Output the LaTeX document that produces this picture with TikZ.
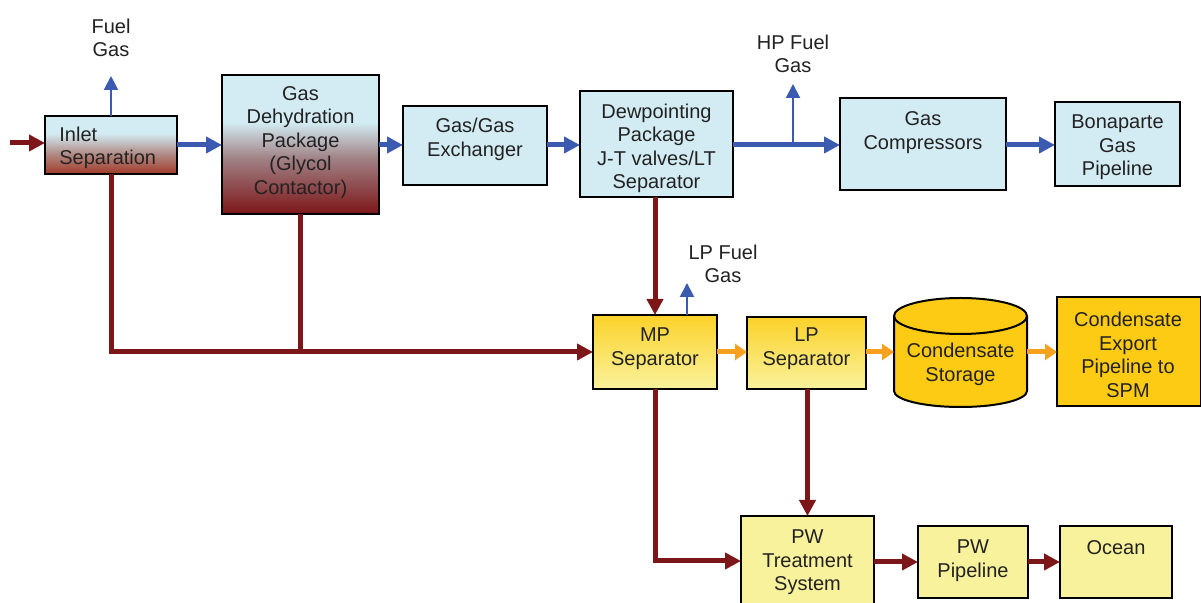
\documentclass[tikz,border=0pt]{standalone}
\usepackage{fontspec}
\setmainfont{Liberation Sans}
\usetikzlibrary{arrows.meta}
\definecolor{lblue}{HTML}{D3ECF3}
\definecolor{dred}{HTML}{7D1618}
\definecolor{rust}{HTML}{A23A28}
\definecolor{gblue}{HTML}{3A5BB0}
\definecolor{orng}{HTML}{F8A11E}
\definecolor{lyel}{HTML}{F9F29C}
\definecolor{gyel}{HTML}{FCD22A}
\definecolor{gold}{HTML}{FDCA14}
\definecolor{txt}{HTML}{222222}
\pgfdeclareverticalshading{dehydsh}{100bp}{color(0bp)=(dred); color(25bp)=(dred); color(45bp)=(dred!50!lblue!80!gray); color(58bp)=(lblue); color(100bp)=(lblue)}
\pgfdeclareverticalshading{inletsh}{100bp}{color(0bp)=(rust); color(25bp)=(rust); color(42bp)=(rust!55!lblue!85!gray); color(60bp)=(lblue); color(100bp)=(lblue)}
\tikzset{
  box/.style={draw=black, line width=1.2pt, inner sep=0pt, outer sep=0pt},
  bluebox/.style={box, fill=lblue},
  yelbox/.style={box, top color=gyel, bottom color=lyel},
  pwbox/.style={box, fill=lyel},
  goldbox/.style={box, fill=gold},
  lbl/.style={font=\fontsize{10}{11.75}\selectfont, text=txt, align=center, inner sep=0pt},
  gasline/.style={draw=gblue, line width=2.5pt, -{Triangle[length=8pt,width=8pt]}},
  fuelline/.style={draw=gblue, line width=1pt, -{Triangle[length=7pt,width=7pt]}},
  liqline/.style={draw=dred, line width=2.5pt, -{Triangle[length=8pt,width=8pt]}},
  liqpipe/.style={draw=dred, line width=2.5pt},
  condline/.style={draw=orng, line width=2.5pt, -{Triangle[length=6pt,width=8pt]}}
}
\begin{document}
\begin{tikzpicture}[x=0.5pt,y=-0.5pt]
\clip (0,0) rectangle (1201,603);
\fill[white] (0,0) rectangle (1201,603);
% boxes
\node[box, shading=inletsh, minimum width=66pt, minimum height=29pt] (inlet) at (111,145) {};
\node[box, shading=dehydsh, minimum width=78.5pt, minimum height=69.5pt] (dehyd) at (300.5,144.5) {};
\node[bluebox, minimum width=72pt, minimum height=39.5pt] (gasgas) at (475,145.5) {};
\node[bluebox, minimum width=76.5pt, minimum height=53pt] (dew) at (656.5,144) {};
\node[bluebox, minimum width=83pt, minimum height=46pt] (comp) at (923,144) {};
\node[bluebox, minimum width=62.5pt, minimum height=42pt] (bon) at (1117.5,144) {};
\node[yelbox, minimum width=62pt, minimum height=37pt] (mp) at (655,352) {};
\node[yelbox, minimum width=59.5pt, minimum height=36pt] (lp) at (806.5,353) {};
\node[inner sep=0pt, outer sep=0pt, minimum width=66.5pt, minimum height=37.5pt] (cyl) at (960.5,353.5) {};
\node[goldbox, minimum width=72pt, minimum height=54.5pt] (export) at (1129,351.5) {};
\node[pwbox, minimum width=66.5pt, minimum height=47pt] (pwt) at (807.5,563) {};
\node[pwbox, minimum width=55pt, minimum height=36pt] (pwp) at (973,562) {};
\node[pwbox, minimum width=56pt, minimum height=36pt] (ocean) at (1116,562) {};
% cylinder
\filldraw[fill=gold, draw=black, line width=1pt]
  (cyl.north west) -- (cyl.south west)
  arc[start angle=180, end angle=360, x radius=33.25pt, y radius=8pt]
  -- (cyl.north east)
  arc[start angle=0, end angle=180, x radius=33.25pt, y radius=9pt] -- cycle;
\draw[black, line width=1pt] (cyl.north west)
  arc[start angle=180, end angle=360, x radius=33.25pt, y radius=9pt];
% texts
\node[lbl] (tfuel) at (111,38) {Fuel\\Gas};
\node[lbl, anchor=west, align=left] (tinlet) at (59,148) {Inlet\\Separation};
\node[lbl] (tdehyd) at (300.5,142.5) {Gas\\Dehydration\\Package\\(Glycol\\Contactor)};
\node[lbl] (tgasgas) at (475,139.5) {Gas/Gas\\Exchanger};
\node[lbl] (tdew) at (656.5,148.5) {Dewpointing\\Package\\J-T valves/LT\\Separator};
\node[lbl] (thp) at (793,54) {HP Fuel\\Gas};
\node[lbl] (tcomp) at (923,132.5) {Gas\\Compressors};
\node[lbl] (tbon) at (1117.5,147.5) {Bonaparte\\Gas\\Pipeline};
\node[lbl] (tlpf) at (723,264) {LP Fuel\\Gas};
\node[lbl] (tmp) at (655,348.5) {MP\\Separator};
\node[lbl] (tlp) at (806.5,348.5) {LP\\Separator};
\node[lbl] (tcyl) at (960.5,364.5) {Condensate\\Storage};
\node[lbl] (texport) at (1128,355) {Condensate\\Export\\Pipeline to\\SPM};
\node[lbl] (tpwt) at (807.5,562.5) {PW\\Treatment\\System};
\node[lbl] (tpwp) at (973,560.5) {PW\\Pipeline};
\node[lbl] (tocean) at (1116,548) {Ocean};
% coordinates
\coordinate (feed) at (10,143);
\coordinate (fgtip) at (111,76);
\coordinate (hpj) at (793,145);
\coordinate (hptip) at (793,84);
\coordinate (lpbase) at (687,315);
\coordinate (lptip) at (687,283);
% gas lines
\draw[gasline] (inlet.east |- 0,145) -- (dehyd.west |- 0,145);
\draw[gasline] (dehyd.east |- 0,145) -- (gasgas.west |- 0,145);
\draw[gasline] (gasgas.east |- 0,145) -- (dew.west |- 0,145);
\draw[gasline] (dew.east |- 0,145) -- (comp.west |- 0,145);
\draw[gasline] (comp.east |- 0,145) -- (bon.west |- 0,145);
\draw[fuelline] (inlet.north) -- (fgtip);
\draw[fuelline] (hpj) -- (hptip);
\draw[fuelline] (lpbase) -- (lptip);
% liquid lines
\draw[liqline] (feed) -- (inlet.west |- feed);
\draw[liqline] (dew.south -| mp.north) -- (mp.north);
\draw[liqline] (inlet.south) |- (mp.west);
\draw[liqpipe] (dehyd.south) -- (dehyd.south |- mp.west);
\draw[liqline] (mp.south) |- (pwt.west |- 0,561);
\draw[liqline] (lp.south -| pwt.north) -- (pwt.north);
\draw[liqline] (pwt.east |- 0,562) -- (pwp.west |- 0,562);
\draw[liqline] (pwp.east |- 0,562) -- (ocean.west |- 0,562);
% condensate lines
\draw[condline] (mp.east |- 0,352) -- (lp.west |- 0,352);
\draw[condline] (lp.east |- 0,352) -- (cyl.west |- 0,352);
\draw[condline] (cyl.east |- 0,352) -- (export.west |- 0,352);
\end{tikzpicture}
\end{document}
